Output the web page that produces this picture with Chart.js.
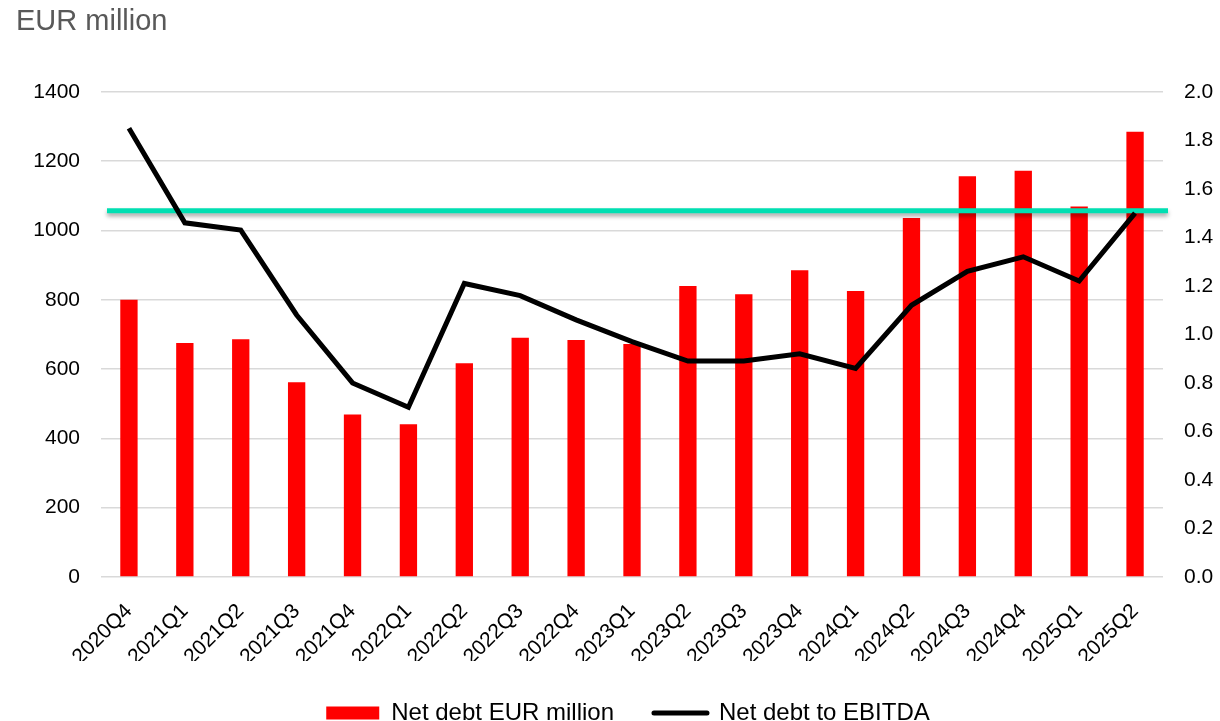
<!DOCTYPE html>
<html>
<head>
<meta charset="utf-8">
<script src="https://cdn.jsdelivr.net/npm/chart.js@4.4.0/dist/chart.umd.min.js"></script>
<style>
    html, body { margin: 0; padding: 0; background: #fff; }
    #wrap { width: 1220px; height: 721px; position: relative; }
</style>
</head>
<body>
<div id="wrap"><canvas id="chart"></canvas></div>
<script>
var quarters = ['2020Q4', '2021Q1', '2021Q2', '2021Q3', '2021Q4', '2022Q1', '2022Q2', '2022Q3', '2022Q4',
    '2023Q1', '2023Q2', '2023Q3', '2023Q4', '2024Q1', '2024Q2', '2024Q3', '2024Q4', '2025Q1', '2025Q2'];
var netDebt = [800, 675, 686, 562, 469, 441, 617, 690, 684, 672, 840, 816, 885, 825, 1036, 1156, 1172, 1069, 1285];
var debtToEbitda = [1.85, 1.46, 1.43, 1.08, 0.80, 0.70, 1.21, 1.16, 1.06, 0.97, 0.89, 0.89, 0.92, 0.86, 1.12, 1.26, 1.32, 1.22, 1.50];
var targetLevel = [1.51];
var leftTicks = [0, 200, 400, 600, 800, 1000, 1200, 1400];
var rightTicks = [0, 0.2, 0.4, 0.6, 0.8, 1.0, 1.2, 1.4, 1.6, 1.8, 2.0];

var fontFamily = '"Liberation Sans", Arial, sans-serif';

// horizontal target line, drawn just under the ratio line
var targetLine = {
    id: 'targetLine',
    afterLayout: function(chart) {
        // legend sits a bit right of centre in the original
        chart.legend.left += 12;
        chart.legend.right += 12;
    },
    beforeDatasetDraw: function(chart, args) {
        if (args.index !== 1) return;
        var ctx = chart.ctx;
        var area = chart.chartArea;
        var y = chart.scales.y1.getPixelForValue(targetLevel[0]);
        ctx.save();
        ctx.shadowColor = 'rgba(0,0,0,0.35)';
        ctx.shadowBlur = 4;
        ctx.shadowOffsetY = 3;
        ctx.strokeStyle = '#00dfb2';
        ctx.lineWidth = 5;
        ctx.beginPath();
        ctx.moveTo(area.left + 6, y);
        ctx.lineTo(area.right + 5, y);
        ctx.stroke();
        ctx.restore();
    }
};

var ctx = document.getElementById('chart');
var chart = new Chart(ctx, {
    type: 'bar',
    data: {
        labels: quarters,
        datasets: [
            {
                label: 'Net debt EUR million',
                data: netDebt,
                backgroundColor: '#ff0000',
                barPercentage: 0.31,
                categoryPercentage: 1,
                yAxisID: 'y',
                order: 1
            },
            {
                type: 'line',
                label: 'Net debt to EBITDA',
                data: debtToEbitda,
                borderColor: '#000000',
                backgroundColor: '#000000',
                borderWidth: 5,
                pointRadius: 0,
                tension: 0,
                yAxisID: 'y1',
                order: 0
            }
        ]
    },
    options: {
        responsive: true,
        maintainAspectRatio: false,
        animation: false,
        layout: { padding: { left: 16, right: 4, top: 0, bottom: -14 } },
        plugins: {
            title: {
                display: true,
                text: 'EUR million',
                align: 'start',
                color: '#595959',
                font: { family: fontFamily, size: 29, weight: 'normal' },
                padding: { top: 5, bottom: 52 }
            },
            legend: {
                position: 'bottom',
                labels: {
                    color: '#000',
                    font: { family: fontFamily, size: 24 },
                    usePointStyle: true,
                    pointStyleWidth: 53,
                    boxHeight: 13,
                    padding: 40,
                    generateLabels: function(chart) {
                        return [
                            {
                                text: chart.data.datasets[0].label,
                                fillStyle: '#ff0000',
                                strokeStyle: '#ff0000',
                                lineWidth: 0,
                                pointStyle: 'rect',
                                datasetIndex: 0
                            },
                            {
                                text: chart.data.datasets[1].label,
                                fillStyle: '#000',
                                strokeStyle: '#000',
                                lineWidth: 5,
                                lineCap: 'round',
                                pointStyle: 'line',
                                datasetIndex: 1
                            }
                        ];
                    }
                }
            },
            tooltip: { enabled: false }
        },
        scales: {
            x: {
                offset: true,
                grid: { display: false },
                border: { display: false },
                afterFit: function(axis) { axis.height = 84; },
                ticks: {
                    color: '#000',
                    font: { family: fontFamily, size: 21 },
                    minRotation: 45,
                    maxRotation: 45,
                    padding: 14
                }
            },
            y: {
                position: 'left',
                min: 0,
                max: 1400,
                afterBuildTicks: function(axis) {
                    axis.ticks = leftTicks.map(function(v) { return { value: v }; });
                },
                afterFit: function(axis) { axis.width = 85; },
                grid: { color: '#d9d9d9', lineWidth: 1.5, drawTicks: false },
                border: { display: false },
                ticks: {
                    color: '#000',
                    font: { family: fontFamily, size: 21 },
                    padding: 21,
                    callback: function(v) { return String(v); }
                }
            },
            y1: {
                position: 'right',
                min: 0,
                max: 2,
                afterBuildTicks: function(axis) {
                    axis.ticks = rightTicks.map(function(v) { return { value: v }; });
                },
                afterFit: function(axis) { axis.width = 53; },
                grid: { drawOnChartArea: false, drawTicks: false },
                border: { display: false },
                ticks: {
                    color: '#000',
                    font: { family: fontFamily, size: 21 },
                    padding: 21,
                    callback: function(v) { return v.toFixed(1); }
                }
            }
        }
    },
    plugins: [targetLine]
});
</script>
</body>
</html>
